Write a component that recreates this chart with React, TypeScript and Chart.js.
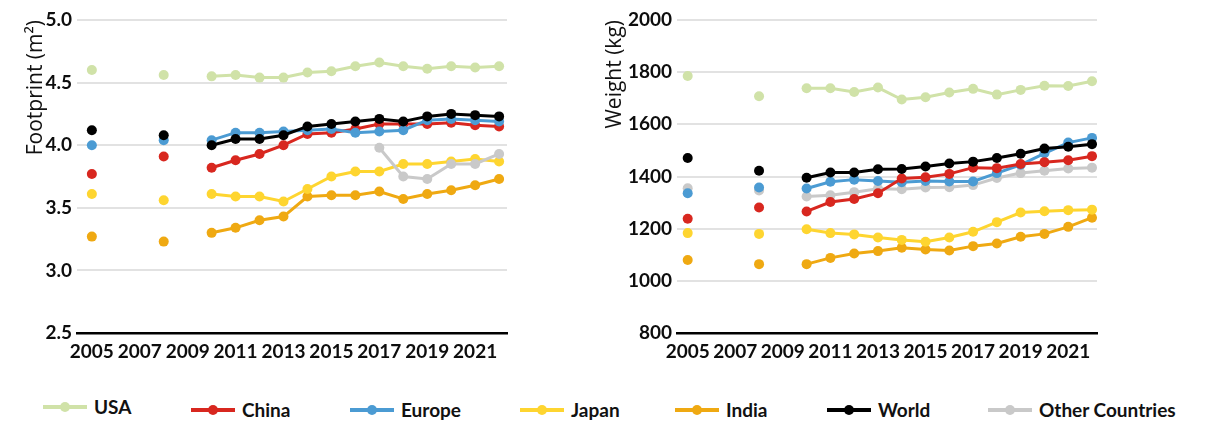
import React, { useEffect, useRef } from "react";
import { Chart, registerables } from "chart.js";

Chart.register(...registerables);

// ---------- DATA ----------
const YEARS = [2005, 2008, 2010, 2011, 2012, 2013, 2014, 2015, 2016, 2017, 2018, 2019, 2020, 2021, 2022];
const X_TICK_YEARS = [2005, 2007, 2009, 2011, 2013, 2015, 2017, 2019, 2021];

const SERIES_NAMES = ["USA", "China", "Europe", "Japan", "India", "World", "Other Countries"];

// Footprint (m²)
const USA_FP = [4.60, 4.56, 4.55, 4.56, 4.54, 4.54, 4.58, 4.59, 4.63, 4.66, 4.63, 4.61, 4.63, 4.62, 4.63];
const CHINA_FP = [3.77, 3.91, 3.82, 3.88, 3.93, 4.00, 4.09, 4.10, 4.13, 4.17, 4.17, 4.17, 4.18, 4.16, 4.15];
const EUROPE_FP = [4.00, 4.04, 4.04, 4.10, 4.10, 4.11, 4.12, 4.13, 4.10, 4.11, 4.12, 4.20, 4.21, 4.20, 4.19];
const JAPAN_FP = [3.61, 3.56, 3.61, 3.59, 3.59, 3.55, 3.65, 3.75, 3.79, 3.79, 3.85, 3.85, 3.87, 3.89, 3.87];
const INDIA_FP = [3.27, 3.23, 3.30, 3.34, 3.40, 3.43, 3.59, 3.60, 3.60, 3.63, 3.57, 3.61, 3.64, 3.68, 3.73];
const WORLD_FP = [4.12, 4.08, 4.00, 4.05, 4.05, 4.08, 4.15, 4.17, 4.19, 4.21, 4.19, 4.23, 4.25, 4.24, 4.23];
const OTHER_FP = [null, null, null, null, null, null, null, null, null, 3.98, 3.75, 3.73, 3.85, 3.85, 3.93];

// Weight (kg)
const USA_W = [1785, 1708, 1738, 1738, 1724, 1741, 1695, 1704, 1722, 1736, 1714, 1732, 1748, 1747, 1765];
const CHINA_W = [1238, 1281, 1266, 1302, 1314, 1336, 1392, 1397, 1410, 1434, 1432, 1448, 1455, 1462, 1478];
const EUROPE_W = [1336, 1358, 1354, 1380, 1388, 1383, 1378, 1383, 1381, 1381, 1413, 1445, 1489, 1530, 1548];
const JAPAN_W = [1183, 1180, 1198, 1183, 1178, 1166, 1157, 1150, 1166, 1188, 1225, 1262, 1267, 1271, 1273];
const INDIA_W = [1080, 1064, 1064, 1088, 1105, 1114, 1127, 1120, 1116, 1133, 1143, 1169, 1180, 1207, 1242];
const WORLD_W = [1471, 1422, 1395, 1415, 1415, 1428, 1429, 1438, 1450, 1457, 1471, 1487, 1507, 1514, 1524];
const OTHER_W = [1355, 1346, 1323, 1328, 1340, 1353, 1351, 1358, 1359, 1367, 1394, 1413, 1422, 1431, 1434];

// ---------- STYLE ----------
const COLORS = ["#d0e2a8", "#d8271f", "#4b9bd3", "#fed530", "#efa912", "#000000", "#c9c9c9"];
const LEGEND_LEFT = [43, 191, 350, 520, 675, 827, 988];
const LEGEND_TOP = [397, 400, 400, 400, 400, 400, 400];

const TICK_FONT = { family: "Lato, sans-serif", size: 19, weight: 700 as const };
const TITLE_FONT = { family: "'Open Sans', sans-serif", size: 21, weight: 400 as const };

type PanelCfg = {
  values: (number | null)[][];
  orders: number[];
  yMin: number;
  yMax: number;
  yStep: number;
  decimals: number;
  title: string;
  titlePad: number;
  xMin: number;
  xMax: number;
  padRight: number;
};

function buildChart(canvas: HTMLCanvasElement, cfg: PanelCfg) {
  const datasets = SERIES_NAMES.map((name, i) => ({
    label: name,
    data: YEARS.map((yr, j) => ({ x: yr, y: cfg.values[i][j] })),
    borderColor: COLORS[i],
    backgroundColor: COLORS[i],
    pointBackgroundColor: COLORS[i],
    pointBorderColor: COLORS[i],
    pointBorderWidth: 0,
    pointRadius: 5,
    borderWidth: 3,
    order: cfg.orders[i],
    spanGaps: false,
    segment: {
      borderColor: (ctx: any) => (ctx.p1.parsed.x <= 2010 ? "rgba(0,0,0,0)" : undefined),
    },
  }));

  return new Chart(canvas, {
    type: "line",
    data: { datasets },
    options: {
      responsive: false,
      animation: false,
      devicePixelRatio: 1,
      layout: { padding: { top: 20, bottom: 7, left: 0, right: cfg.padRight } },
      plugins: { legend: { display: false }, tooltip: { enabled: false } },
      scales: {
        x: {
          type: "linear",
          min: cfg.xMin,
          max: cfg.xMax,
          afterBuildTicks: (scale: any) => {
            scale.ticks = X_TICK_YEARS.map((v) => ({ value: v }));
          },
          afterFit: (scale: any) => {
            scale.height = 40;
          },
          ticks: {
            autoSkip: false,
            maxRotation: 0,
            padding: 7,
            color: "#0d0d0d",
            font: TICK_FONT,
            callback: (v: any) => String(v),
          },
          grid: { display: false, drawTicks: false },
          border: { display: true, color: "#000000", width: 2.5 },
        },
        y: {
          type: "linear",
          min: cfg.yMin,
          max: cfg.yMax,
          ticks: {
            stepSize: cfg.yStep,
            padding: 5,
            color: "#0d0d0d",
            font: TICK_FONT,
            callback: (v: any) => Number(v).toFixed(cfg.decimals),
          },
          afterFit: (scale: any) => {
            scale.width = 77;
          },
          grid: {
            drawTicks: false,
            lineWidth: 2,
            color: (ctx: any) => (ctx.tick && ctx.tick.value === cfg.yMin ? "rgba(0,0,0,0)" : "#e2e2e2"),
          },
          border: { display: false },
          title: {
            display: true,
            text: cfg.title,
            align: "end",
            color: "#111111",
            font: TITLE_FONT,
            padding: { top: cfg.titlePad, bottom: 0 },
          },
        },
      },
    },
  } as any);
}

function Panel({ cfg, left, width }: { cfg: PanelCfg; left: number; width: number }) {
  const ref = useRef<HTMLCanvasElement | null>(null);
  useEffect(() => {
    if (!ref.current) return;
    const chart = buildChart(ref.current, cfg);
    return () => chart.destroy();
  }, []);
  return (
    <div style={{ position: "absolute", left, top: 0, width, height: 380 }}>
      <canvas ref={ref} width={width} height={380} style={{ width, height: 380, display: "block" }} />
    </div>
  );
}

const FOOTPRINT: PanelCfg = {
  values: [USA_FP, CHINA_FP, EUROPE_FP, JAPAN_FP, INDIA_FP, WORLD_FP, OTHER_FP],
  orders: [6, 2, 1, 4, 5, 0, 3],
  yMin: 2.5,
  yMax: 5.0,
  yStep: 0.5,
  decimals: 1,
  title: "Footprint (m²)",
  titlePad: 23,
  xMin: 2004.38,
  xMax: 2022.33,
  padRight: 93,
};

const WEIGHT: PanelCfg = {
  values: [USA_W, CHINA_W, EUROPE_W, JAPAN_W, INDIA_W, WORLD_W, OTHER_W],
  orders: [6, 1, 2, 4, 5, 0, 3],
  yMin: 800,
  yMax: 2000,
  yStep: 200,
  decimals: 0,
  title: "Weight (kg)",
  titlePad: 2,
  xMin: 2004.55,
  xMax: 2022.21,
  padRight: 118,
};

function Legend() {
  return (
    <>
      {SERIES_NAMES.map((name, i) => (
        <div
          key={name}
          style={{
            position: "absolute",
            left: LEGEND_LEFT[i],
            top: LEGEND_TOP[i],
            height: 20,
            display: "flex",
            alignItems: "center",
            whiteSpace: "nowrap",
          }}
        >
          <div style={{ position: "relative", width: 44, height: 20, marginRight: 7 }}>
            <div style={{ position: "absolute", left: 0, top: 8, width: 44, height: 4, background: COLORS[i] }} />
            <div
              style={{
                position: "absolute",
                left: 17,
                top: 5,
                width: 10,
                height: 10,
                borderRadius: 5,
                background: COLORS[i],
              }}
            />
          </div>
          <span style={{ fontFamily: "Lato, sans-serif", fontWeight: 700, fontSize: 19, color: "#111", lineHeight: "20px" }}>
            {name}
          </span>
        </div>
      ))}
    </>
  );
}

export default function App() {
  return (
    <div style={{ position: "absolute", left: 0, top: 0, width: 1215, height: 425, background: "#fff", overflow: "hidden" }}>
      <Panel cfg={FOOTPRINT} left={0} width={600} />
      <Panel cfg={WEIGHT} left={600} width={615} />
      <Legend />
    </div>
  );
}
